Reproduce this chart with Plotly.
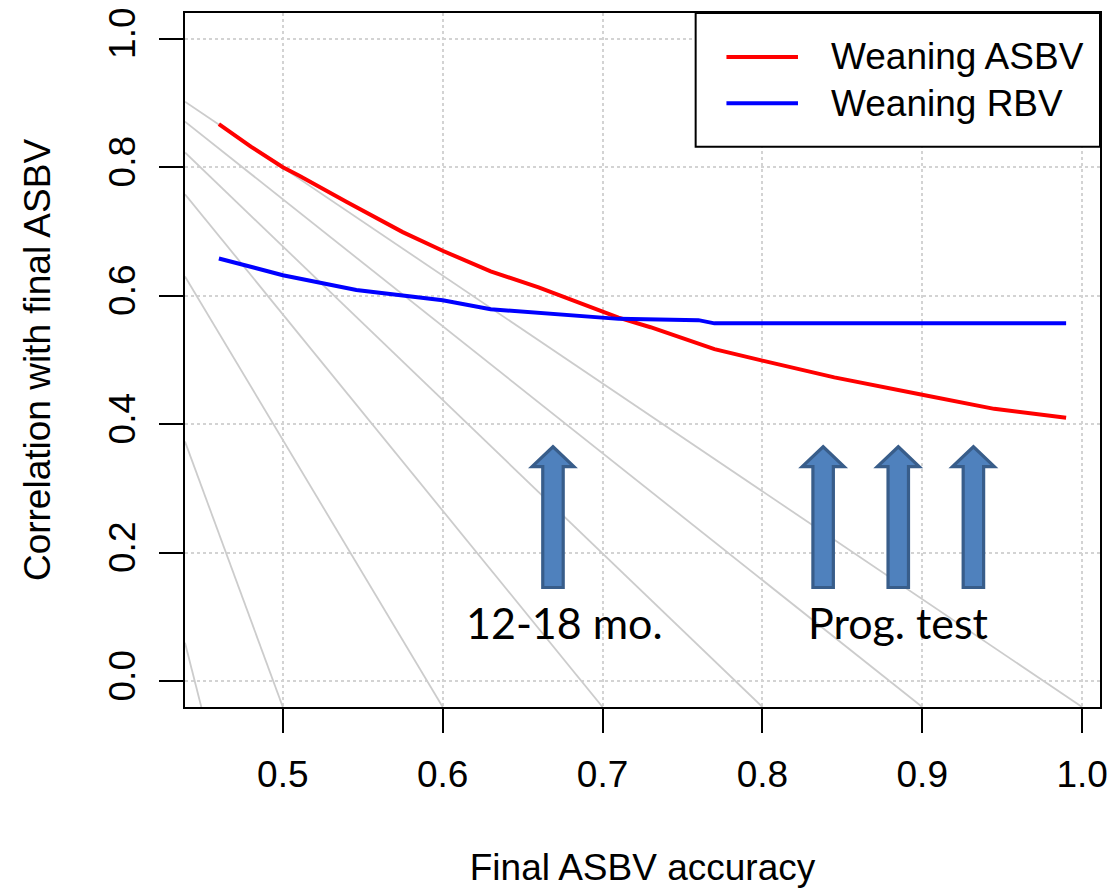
import plotly.graph_objects as go

# ---------------- data ----------------
asbv_x = [0.46, 0.48, 0.50, 0.51, 0.54, 0.575, 0.60, 0.63, 0.66, 0.68, 0.70, 0.71,
          0.73, 0.76, 0.77, 0.80, 0.845, 0.90, 0.945, 0.99]
asbv_y = [0.867, 0.832, 0.800, 0.787, 0.746, 0.699, 0.670, 0.638, 0.613, 0.594, 0.576, 0.566,
          0.551, 0.526, 0.517, 0.499, 0.473, 0.446, 0.424, 0.410]

rbv_x = [0.46, 0.50, 0.546, 0.60, 0.63, 0.68, 0.71, 0.76, 0.77, 0.99]
rbv_y = [0.658, 0.632, 0.609, 0.593, 0.579, 0.569, 0.564, 0.562, 0.557, 0.557]

# grey guide lines: start height at left edge, end position on bottom edge
guide_start_y = [0.06, 0.373, 0.630, 0.758, 0.823, 0.871, 0.902]
guide_end_x = [0.449, 0.5, 0.6, 0.7, 0.8, 0.9, 1.0]

x_ticks = [0.5, 0.6, 0.7, 0.8, 0.9, 1.0]
x_tick_labels = ["0.5", "0.6", "0.7", "0.8", "0.9", "1.0"]
y_ticks = [0.0, 0.2, 0.4, 0.6, 0.8, 1.0]
y_tick_labels = ["0.0", "0.2", "0.4", "0.6", "0.8", "1.0"]

arrow_x = [0.669, 0.838, 0.885, 0.932]
arrow_tip, arrow_neck, arrow_base = 0.365, 0.334, 0.146
arrow_head_hw, arrow_shaft_hw = 0.0131, 0.0064

note_text = ["12-18 mo.", "Prog. test"]
note_x = [0.676, 0.885]
note_y = [0.091, 0.091]

series_names = ["Weaning ASBV", "Weaning RBV"]
series_colors = ["#ff0000", "#0000ff"]

x_range = [0.4388, 1.0112]
y_range = [-0.04, 1.04]

# ---------------- figure ----------------
fig = go.Figure()

for sy, ex in zip(guide_start_y, guide_end_x):
    fig.add_trace(go.Scatter(x=[x_range[0], ex], y=[sy, y_range[0]], mode="lines",
                             line=dict(color="#cccccc", width=1.8),
                             hoverinfo="skip", showlegend=False))

fig.add_trace(go.Scatter(x=asbv_x, y=asbv_y, mode="lines", name=series_names[0],
                         line=dict(color=series_colors[0], width=4), showlegend=False))
fig.add_trace(go.Scatter(x=rbv_x, y=rbv_y, mode="lines", name=series_names[1],
                         line=dict(color=series_colors[1], width=4), showlegend=False))

shapes = []
for ax in arrow_x:
    pts = [(ax, arrow_tip), (ax + arrow_head_hw, arrow_neck), (ax + arrow_shaft_hw, arrow_neck),
           (ax + arrow_shaft_hw, arrow_base), (ax - arrow_shaft_hw, arrow_base),
           (ax - arrow_shaft_hw, arrow_neck), (ax - arrow_head_hw, arrow_neck)]
    path = "M " + " L ".join(f"{px},{py}" for px, py in pts) + " Z"
    shapes.append(dict(type="path", xref="x", yref="y", path=path,
                       fillcolor="#4F81BD", line=dict(color="#385D8A", width=3.2), layer="above"))

# legend drawn by hand (R style)
L, R_, T, B = 185, 1106, 8, 708
def px_x(v):
    return (v - L) / (R_ - L)
def px_y(v):
    return (B - v) / (B - T)

shapes.append(dict(type="rect", xref="paper", yref="paper",
                   x0=px_x(699), x1=px_x(1106), y0=px_y(143), y1=px_y(8),
                   line=dict(color="black", width=2), fillcolor="white", layer="above"))
leg_rows = [52.3, 99]
annotations = []
for name, col, ry in zip(series_names, series_colors, leg_rows):
    shapes.append(dict(type="line", xref="paper", yref="paper",
                       x0=px_x(730), x1=px_x(802), y0=px_y(ry), y1=px_y(ry),
                       line=dict(color=col, width=4), layer="above"))
    annotations.append(dict(xref="paper", yref="paper", x=px_x(833), y=px_y(ry),
                            text=name, showarrow=False, xanchor="left", yanchor="middle",
                            font=dict(family="Liberation Sans, Arial", size=37, color="black")))

for t, nx, ny in zip(note_text, note_x, note_y):
    annotations.append(dict(xref="x", yref="y", x=nx, y=ny, text=t, showarrow=False,
                            xanchor="center", yanchor="middle",
                            font=dict(family="Lato, Carlito, sans-serif", size=43, color="black")))

axis_common = dict(showline=True, linecolor="black", linewidth=2, mirror=True,
                   ticks="outside", ticklen=24, tickwidth=1.5, tickcolor="black",
                   showgrid=True, gridcolor="#d3d3d3", griddash="dot", gridwidth=1.5,
                   zeroline=False,
                   tickfont=dict(family="Liberation Sans, Arial", size=37, color="black"))

fig.update_layout(
    width=1116, height=889,
    margin=dict(l=L, r=1116 - R_, t=T, b=889 - B),
    paper_bgcolor="white", plot_bgcolor="white",
    font=dict(family="Liberation Sans, Arial", color="black"),
    xaxis=dict(range=x_range, tickvals=x_ticks, ticktext=x_tick_labels,
               ticklabelstandoff=10,
               title=dict(text="Final ASBV accuracy", standoff=60,
                          font=dict(family="Liberation Sans, Arial", size=37)),
               **axis_common),
    yaxis=dict(range=y_range, tickvals=y_ticks, ticktext=y_tick_labels, tickangle=-90,
               ticklabelstandoff=9,
               title=dict(text="Correlation with final ASBV", standoff=40,
                          font=dict(family="Liberation Sans, Arial", size=37)),
               **axis_common),
    shapes=shapes, annotations=annotations, showlegend=False,
)

fig.write_html("out.html", config={"displayModeBar": False},
               post_script="document.body.style.margin='0';document.body.style.overflow='hidden';")
